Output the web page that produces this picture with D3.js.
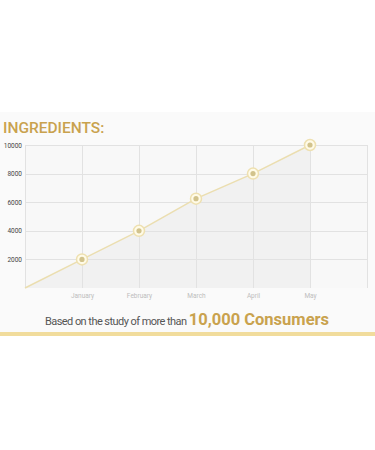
<!DOCTYPE html>
<html>
<head>
<meta charset="utf-8">
<script src="https://cdn.jsdelivr.net/npm/d3@7"></script>
<style>
  body { margin: 0; background: #ffffff; }
  #chart { width: 375px; height: 450px; }
</style>
</head>
<body>
<div id="chart"></div>
<script>
// Chart data
const months = ["", "January", "February", "March", "April", "May"];
const consumers = [0, 2000, 4000, 6250, 8000, 10000];
const yTicks = [2000, 4000, 6000, 8000, 10000];

const width = 375, height = 450;
const margin = { top: 145, right: 8, bottom: 162, left: 25 };
const innerW = width - margin.left - margin.right;
const innerH = height - margin.top - margin.bottom;

const svg = d3.select("#chart").append("svg")
  .attr("width", width)
  .attr("height", height);

// Panel background
svg.append("rect")
  .attr("x", 0).attr("y", 112)
  .attr("width", width).attr("height", 220)
  .attr("fill", "#fafafa");

// Gold bar at the bottom of the panel
svg.append("rect")
  .attr("x", 0).attr("y", 332)
  .attr("width", width).attr("height", 4)
  .attr("fill", "#f1dc9c");

// Title
svg.append("text")
  .attr("x", 3).attr("y", 133)
  .attr("font-family", "Roboto, sans-serif")
  .attr("font-weight", 500)
  .attr("font-size", 15.5)
  .attr("fill", "#c9a24e")
  .text("INGREDIENTS:");

const g = svg.append("g")
  .attr("transform", "translate(" + margin.left + "," + margin.top + ")");

// Scales: six slots, the month points sit on indices 1..5
const x = d3.scaleLinear().domain([0, 6]).range([0, innerW]);
const y = d3.scaleLinear().domain([0, 10000]).range([innerH, 0]);

// Plot background
g.append("rect")
  .attr("width", innerW).attr("height", innerH)
  .attr("fill", "#f8f8f8");

// Area under the line
g.append("path")
  .datum(consumers)
  .attr("fill", "#f1f1f1")
  .attr("d", d3.area().x((d, i) => x(i)).y0(y(0)).y1(d => y(d)));

// Grid lines
g.append("g")
  .attr("stroke", "#e2e2e2")
  .attr("stroke-width", 1)
  .selectAll("line.h")
  .data(yTicks)
  .join("line")
  .attr("x1", 0).attr("x2", innerW)
  .attr("y1", d => Math.round(y(d)) + 0.5)
  .attr("y2", d => Math.round(y(d)) + 0.5);

g.append("g")
  .attr("stroke", "#e2e2e2")
  .selectAll("line")
  .data(d3.range(0, 7))
  .join("line")
  .attr("x1", d => Math.round(x(d)) + 0.5)
  .attr("x2", d => Math.round(x(d)) + 0.5)
  .attr("y1", 0).attr("y2", innerH);

// Y axis labels
const yAxis = g.append("g")
  .call(d3.axisLeft(y).tickValues(yTicks).tickSize(0).tickPadding(3).tickFormat(d3.format("d")));
yAxis.select(".domain").remove();
yAxis.selectAll("text")
  .attr("font-family", "Roboto, sans-serif")
  .attr("font-size", 6.5)
  .attr("fill", "#444");

// X axis labels
const xAxis = g.append("g")
  .attr("transform", "translate(0," + innerH + ")")
  .call(d3.axisBottom(x).tickValues(d3.range(1, months.length)).tickSize(0).tickPadding(5)
    .tickFormat(i => months[i]));
xAxis.select(".domain").remove();
xAxis.selectAll("text")
  .attr("font-family", "Roboto, sans-serif")
  .attr("font-size", 6.5)
  .attr("fill", "#bdbdbd");

// Line
g.append("path")
  .datum(consumers)
  .attr("fill", "none")
  .attr("stroke", "#ebdeb0")
  .attr("stroke-width", 1.5)
  .attr("d", d3.line().x((d, i) => x(i)).y(d => y(d)));

// Points
const pts = consumers.map((v, i) => ({ i, v })).filter(d => d.i > 0);
g.selectAll("circle.outer")
  .data(pts)
  .join("circle")
  .attr("cx", d => x(d.i)).attr("cy", d => y(d.v))
  .attr("r", 5.5)
  .attr("fill", "#fffbe8")
  .attr("stroke", "#eee0b0")
  .attr("stroke-width", 1.5);

g.selectAll("circle.inner")
  .data(pts)
  .join("circle")
  .attr("cx", d => x(d.i)).attr("cy", d => y(d.v))
  .attr("r", 2.6)
  .attr("fill", "#d2c38c");

// Footer text
const foot = svg.append("text")
  .attr("x", 187).attr("y", 325)
  .attr("text-anchor", "middle")
  .attr("font-family", "Roboto, sans-serif");
foot.append("tspan")
  .attr("font-size", 11)
  .attr("fill", "#555")
  .attr("letter-spacing", -0.55)
  .text("Based on the study of more than ");
foot.append("tspan")
  .attr("font-size", 16.5)
  .attr("font-weight", 700)
  .attr("fill", "#c9a24e")
  .text("10,000 Consumers");
</script>
</body>
</html>
